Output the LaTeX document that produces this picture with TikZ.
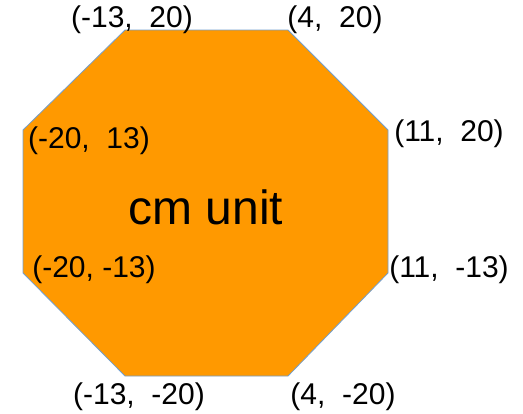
\documentclass[tikz,border=0pt]{standalone}
\usepackage{fontspec}
\setmainfont{Liberation Sans}
\usetikzlibrary{positioning}

\definecolor{octfill}{RGB}{255,153,0}
\definecolor{octline}{RGB}{114,159,207}

\tikzset{
  lbl/.style={inner sep=0pt, font=\fontsize{15}{17}\selectfont},
}

\begin{document}
\begin{tikzpicture}[x=0.5pt, y=-0.5pt]
    \useasboundingbox (0,0) rectangle (523,413);

    % corners of the octagon
    \coordinate (tl) at (125,30);
    \coordinate (tr) at (288,30);
    \coordinate (rt) at (388,130);
    \coordinate (rb) at (388,273);
    \coordinate (br) at (288,376);
    \coordinate (bl) at (125,376);
    \coordinate (lb) at (23,273);
    \coordinate (lt) at (23,130);

    \filldraw[fill=octfill, draw=octline, line width=0.4pt]
      (tl) -- (tr) -- (rt) -- (rb) -- (br) -- (bl) -- (lb) -- (lt) -- cycle;

    \node[font=\fontsize{24}{27}\selectfont, inner sep=0pt] (title) at (206,207) {cm unit};

    \node[lbl] (ptl) at (132,20) {(-13,~~20)};
    \node[lbl] (ptr) at (335,20) {(4,~~20)};
    \node[lbl] (prt) at (449,134) {(11,~~20)};
    \node[lbl] (prb) at (449,270) {(11,~~-13)};
    \node[lbl] (pbr) at (343,397) {(4,~~-20)};
    \node[lbl] (pbl) at (139,397) {(-13,~~-20)};
    \node[lbl] (plb) at (94,270) {(-20, -13)};
    \node[lbl] (plt) at (89,141) {(-20,~~13)};
\end{tikzpicture}
\end{document}
